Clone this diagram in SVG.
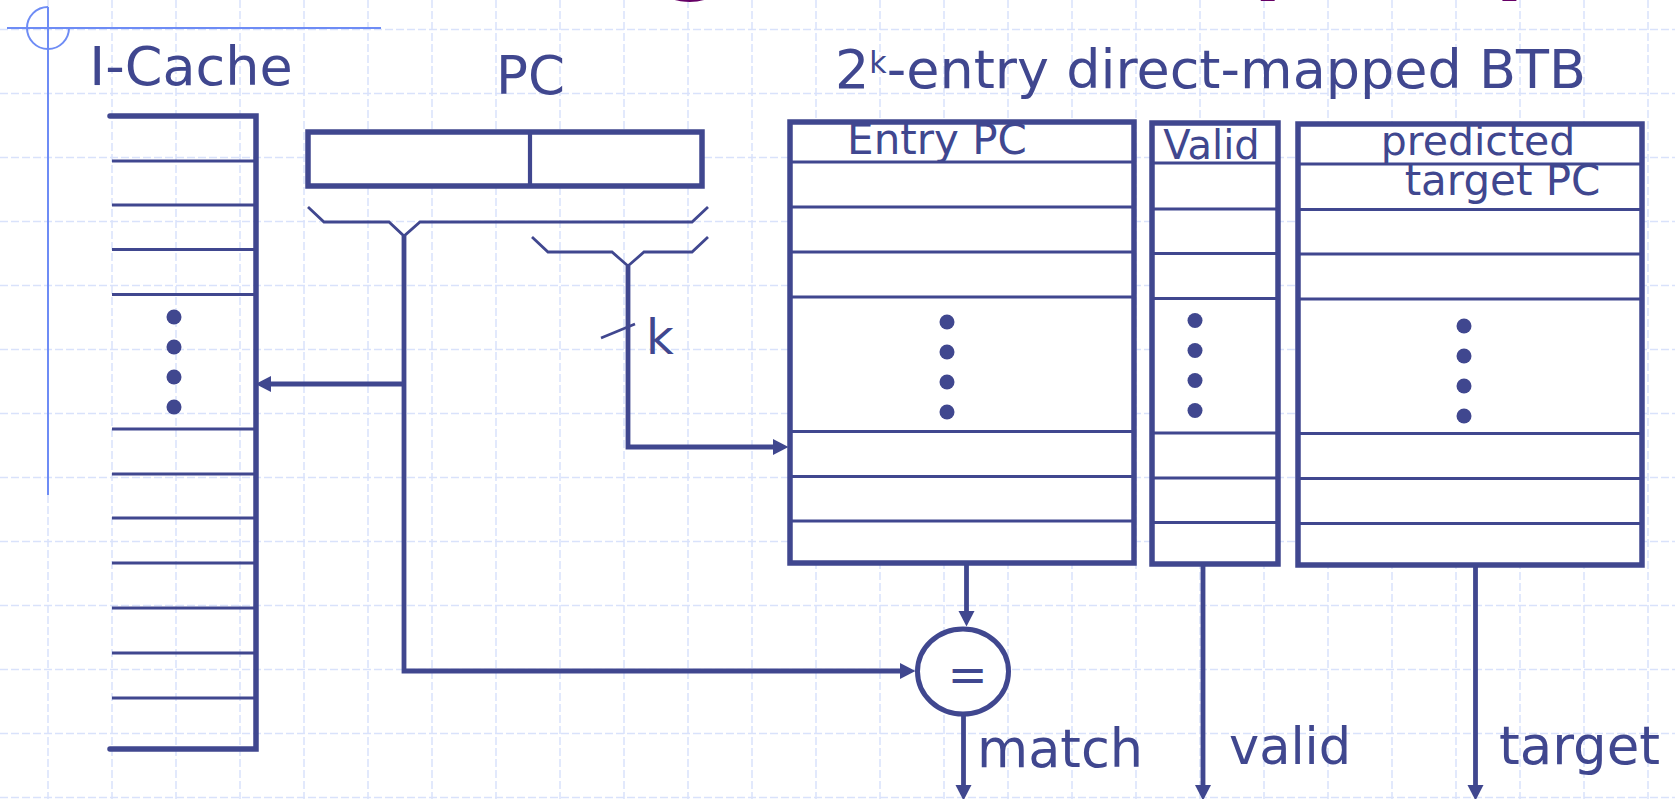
<svg xmlns="http://www.w3.org/2000/svg" width="1675" height="799" viewBox="0 0 1675 799">
<style>
  .grid{fill:none;stroke:#d9e2fb;stroke-width:1.5;stroke-dasharray:8 3}
  .deco{fill:none;stroke:#6e8cf5;stroke-width:2}
  .outline{fill:#fff;stroke:#40478f;stroke-width:5.5}
  .thick{fill:none;stroke:#40478f;stroke-width:5.5;stroke-linecap:round;stroke-linejoin:miter}
  .row{fill:none;stroke:#40478f;stroke-width:3.2}
  .brace{fill:none;stroke:#40478f;stroke-width:2.8;stroke-linejoin:miter}
  .wire{fill:none;stroke:#40478f;stroke-width:4.8;stroke-linejoin:miter}
  .thin{fill:none;stroke:#40478f;stroke-width:2.6}
  .dot{fill:#40478f}
  .lbl{font-family:"DejaVu Sans","Verdana",sans-serif;fill:#40478f}
  .title{font-family:"DejaVu Sans","Verdana",sans-serif;font-weight:bold;fill:#660066}
</style>
<defs>
  <marker id="ah" markerUnits="userSpaceOnUse" markerWidth="16" markerHeight="16" refX="0" refY="8" orient="auto" overflow="visible">
    <path d="M0,0 L15.5,8 L0,16 Z" fill="#40478f"/>
  </marker>
</defs>
<rect x="0" y="0" width="1675" height="799" fill="#fff"/>
<g id="grid">
  <path class="grid" d="M48 0V799M112 0V799M176 0V799M240 0V799M304 0V799M368 0V799M432 0V799M496 0V799M560 0V799M624 0V799M688 0V799M752 0V799M816 0V799M880 0V799M944 0V799M1008 0V799M1072 0V799M1136 0V799M1200 0V799M1264 0V799M1328 0V799M1392 0V799M1456 0V799M1520 0V799M1584 0V799M1648 0V799"/>
  <path class="grid" d="M0 29.5H1675M0 93.5H1675M0 157.5H1675M0 221.5H1675M0 285.5H1675M0 349.5H1675M0 413.5H1675M0 477.5H1675M0 541.5H1675M0 605.5H1675M0 669.5H1675M0 733.5H1675M0 797.5H1675"/>
</g>
<g id="decoration">
  <line class="deco" x1="7" y1="28" x2="381" y2="28"/>
  <line class="deco" x1="48" y1="7" x2="48" y2="495"/>
  <path class="deco" d="M48 7A21 21 0 1 0 69 28"/>
</g>
<text id="slide-title" class="title" font-size="96" x="83" y="-19">Branch Target Buffer <tspan dy="7">(BTB)</tspan></text>

<g id="icache">
  <path class="row" d="M112 161H256M112 205H256M112 249.5H256M112 294.5H256M112 429H256M112 474H256M112 518H256M112 563H256M112 608H256M112 653H256M112 698H256"/>
  <path class="thick" d="M110 116H256V749H110"/>
  <circle class="dot" cx="174" cy="317" r="7.5"/>
  <circle class="dot" cx="174" cy="347" r="7.5"/>
  <circle class="dot" cx="174" cy="377" r="7.5"/>
  <circle class="dot" cx="174" cy="407" r="7.5"/>
  <text class="lbl" font-size="54" x="191" y="85" text-anchor="middle">I-Cache</text>
</g>

<g id="pc">
  <rect class="outline" x="308" y="132" width="394" height="54"/>
  <line x1="530" y1="132" x2="530" y2="186" stroke="#40478f" stroke-width="4.2"/>
  <text class="lbl" font-size="53" x="530.5" y="93.5" text-anchor="middle">PC</text>
</g>

<g id="btb-title">
  <text class="lbl" font-size="54" x="835" y="88.3">2<tspan font-size="30" dy="-15.6">k</tspan><tspan dy="15.6">-entry direct-mapped BTB</tspan></text>
</g>

<g id="entry-pc">
  <rect class="outline" x="790" y="122" width="344" height="441"/>
  <path class="row" d="M790 162H1134M790 207H1134M790 252H1134M790 297H1134M790 431.5H1134M790 476.5H1134M790 521H1134"/>
  <circle class="dot" cx="947" cy="322" r="7.5"/>
  <circle class="dot" cx="947" cy="352" r="7.5"/>
  <circle class="dot" cx="947" cy="382" r="7.5"/>
  <circle class="dot" cx="947" cy="412" r="7.5"/>
  <text class="lbl" font-size="42" x="937" y="154" text-anchor="middle">Entry PC</text>
</g>

<g id="valid">
  <rect class="outline" x="1152" y="123" width="126" height="441"/>
  <path class="row" d="M1152 163H1278M1152 209H1278M1152 253.5H1278M1152 298.5H1278M1152 433H1278M1152 478H1278M1152 522.5H1278"/>
  <circle class="dot" cx="1195" cy="320.5" r="7.5"/>
  <circle class="dot" cx="1195" cy="350.5" r="7.5"/>
  <circle class="dot" cx="1195" cy="380.5" r="7.5"/>
  <circle class="dot" cx="1195" cy="410.5" r="7.5"/>
  <text class="lbl" font-size="40" x="1211.5" y="159" text-anchor="middle">Valid</text>
</g>

<g id="target-pc">
  <rect class="outline" x="1298" y="124" width="344" height="441"/>
  <path class="row" d="M1298 164H1642M1298 209.5H1642M1298 254H1642M1298 299H1642M1298 433.5H1642M1298 478.5H1642M1298 523.5H1642"/>
  <circle class="dot" cx="1464" cy="326" r="7.5"/>
  <circle class="dot" cx="1464" cy="356" r="7.5"/>
  <circle class="dot" cx="1464" cy="386" r="7.5"/>
  <circle class="dot" cx="1464" cy="416" r="7.5"/>
  <text class="lbl" font-size="41" x="1478" y="155" text-anchor="middle">predicted</text>
  <text class="lbl" font-size="42" x="1502.5" y="195" text-anchor="middle">target PC</text>
</g>

<g id="comparator">
  <ellipse cx="963" cy="671.5" rx="45.5" ry="42.5" fill="#fff" stroke="#40478f" stroke-width="5"/>
  <text class="lbl" font-size="48" x="967.5" y="690.5" text-anchor="middle">=</text>
</g>

<g id="connectors">
  <path class="brace" d="M308 207L324 222H389L404 236L420 222H692L708 207"/>
  <path class="brace" d="M532 237L548 252H612L628 266L644 252H692L708 237"/>
  <path class="wire" d="M404 236V671H900" marker-end="url(#ah)"/>
  <path class="wire" d="M404 384H271" marker-end="url(#ah)"/>
  <path class="wire" d="M628 266V447H773" marker-end="url(#ah)"/>
  <line class="thin" x1="601" y1="338" x2="635" y2="324"/>
  <text class="lbl" font-size="48" x="646" y="354">k</text>
  <path class="wire" d="M966.5 563V611" marker-end="url(#ah)"/>
  <path class="wire" d="M963.5 714V785" marker-end="url(#ah)"/>
  <path class="wire" d="M1203 564V785" marker-end="url(#ah)"/>
  <path class="wire" d="M1475.5 565V785" marker-end="url(#ah)"/>
  <text class="lbl" font-size="52.5" x="977" y="766.5">match</text>
  <text class="lbl" font-size="51" x="1229" y="764">valid</text>
  <text class="lbl" font-size="53" x="1499" y="764">target</text>
</g>
</svg>
